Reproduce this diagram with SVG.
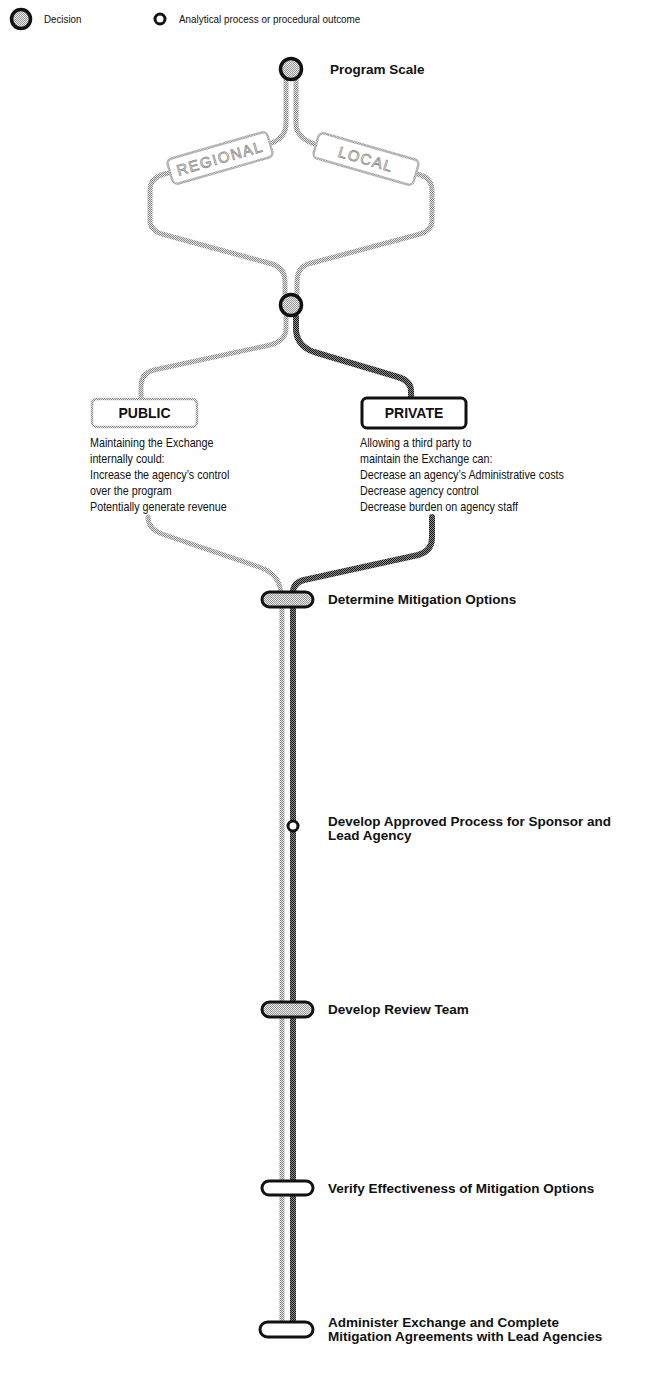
<svg xmlns="http://www.w3.org/2000/svg" width="654" height="1397" viewBox="0 0 654 1397">
  <defs>
    <!-- dithered greys used for strokes and fills -->
    <pattern id="stipLight" width="2" height="2" patternUnits="userSpaceOnUse">
      <rect width="2" height="2" fill="#e2e2e2"/>
      <rect width="1" height="1" fill="#8a8a8a"/>
      <rect x="1" y="1" width="1" height="1" fill="#8a8a8a"/>
    </pattern>
    <pattern id="stipDark" width="2" height="2" patternUnits="userSpaceOnUse">
      <rect width="2" height="2" fill="#8c8c8c"/>
      <rect width="1" height="1" fill="#1a1a1a"/>
      <rect x="1" y="1" width="1" height="1" fill="#1a1a1a"/>
    </pattern>
    <pattern id="stipFill" width="2" height="2" patternUnits="userSpaceOnUse">
      <rect width="2" height="2" fill="#e8e8e8"/>
      <rect width="1" height="1" fill="#9a9a9a"/>
      <rect x="1" y="1" width="1" height="1" fill="#9a9a9a"/>
    </pattern>
  </defs>
  <style>
    text { font-family: "Liberation Sans", Arial, sans-serif; fill: #111; }
    .legend { font-size: 11.5px; }
    .label { font-size: 13.5px; font-weight: bold; }
    .body { font-size: 12.5px; }
    .choice { font-size: 14px; font-weight: bold; text-anchor: middle; }
    .tagtext { font-size: 15px; fill: #fff; stroke: #8f8f8f; stroke-width: 0.8; letter-spacing: 1.5px; text-anchor: middle; }
    .light { fill: none; stroke: url(#stipLight); stroke-width: 5; stroke-linecap: round; stroke-linejoin: round; }
    .dark { fill: none; stroke: url(#stipDark); stroke-width: 6; stroke-linecap: round; stroke-linejoin: round; }
    .decision { fill: url(#stipFill); stroke: #111; stroke-width: 3.5; }
    .process { fill: #fff; stroke: #111; stroke-width: 3; }
    .pill { stroke: #111; stroke-width: 3; }
    .tag { fill: #fff; stroke: url(#stipLight); stroke-width: 2.5; }
  </style>

  <!-- legend; the printed type is a narrow face, so lines are squeezed horizontally -->
  <g id="legend">
    <circle class="decision" cx="21" cy="19" r="9.5"/>
    <g transform="translate(44,0) scale(0.85,1)">
      <text class="legend" x="0" y="23">Decision</text>
    </g>
    <circle class="process" cx="160" cy="19" r="5"/>
    <g transform="translate(179,0) scale(0.86,1)">
      <text class="legend" x="0" y="23">Analytical process or procedural outcome</text>
    </g>
  </g>

  <!-- connectors -->
  <g id="connectors">
    <!-- program scale split -->
    <path class="light" d="M286,80 L286,124 Q286,137 272,143"/>
    <path class="light" d="M296,80 L296,124 Q296,137 314,144"/>
    <path class="light" d="M169,173 Q150,176 150,190 L150,221 Q150,230 162,234 L272,264 Q285,268 285,282 L285,294"/>
    <path class="light" d="M417,174 Q432,177 432,191 L432,221 Q432,230 420,234 L308,264 Q297,268 297,282 L297,294"/>
    <!-- management options -->
    <path class="light" d="M286,317 L286,328 Q286,341 270,345 L154,370 Q141,373 141,386 L141,399"/>
    <path class="dark" d="M296,317 L296,330 Q297,346 314,352 L398,377 Q411,381 411,391 L411,397"/>
    <!-- merge into mitigation options -->
    <path class="light" d="M148,517 Q148,529 162,534 L262,568 Q279,575 281,592"/>
    <path class="dark" d="M432,517 L432,538 Q432,551 418,555 L304,580 Q293,583 293,592"/>
    <!-- main trunk -->
    <line class="light" x1="282" y1="606" x2="282" y2="1322"/>
    <line class="dark" x1="293" y1="606" x2="293" y2="1322"/>
  </g>

  <g id="program-scale">
    <circle class="decision" cx="291" cy="69" r="10.5"/>
    <text class="label" x="330" y="74">Program Scale</text>
  </g>

  <g id="regional">
    <g transform="translate(220,158) rotate(-16)">
      <rect class="tag" x="-52" y="-13" width="104" height="26" rx="5"/>
      <text class="tagtext" x="0" y="5.5">REGIONAL</text>
    </g>
  </g>

  <g id="local">
    <g transform="translate(366,159) rotate(16)">
      <rect class="tag" x="-52" y="-13" width="104" height="26" rx="5"/>
      <text class="tagtext" x="0" y="5.5">LOCAL</text>
    </g>
  </g>

  <g id="management-decision">
    <circle class="decision" cx="291" cy="305" r="10.5"/>
  </g>

  <g id="public">
    <rect x="92" y="399" width="105" height="28" rx="5" fill="#fff" stroke="url(#stipLight)" stroke-width="2.5"/>
    <text class="choice" x="144.5" y="418">PUBLIC</text>
    <g transform="translate(90,0) scale(0.86,1)">
      <text class="body" x="0" y="447">Maintaining the Exchange</text>
      <text class="body" x="0" y="463">internally could:</text>
      <text class="body" x="0" y="479">Increase the agency’s control</text>
      <text class="body" x="0" y="495">over the program</text>
      <text class="body" x="0" y="511">Potentially generate revenue</text>
    </g>
  </g>

  <g id="private">
    <rect x="362" y="398" width="104" height="30" rx="5" fill="#fff" stroke="#111" stroke-width="3"/>
    <text class="choice" x="414" y="418">PRIVATE</text>
    <g transform="translate(360,0) scale(0.86,1)">
      <text class="body" x="0" y="447">Allowing a third party to</text>
      <text class="body" x="0" y="463">maintain the Exchange can:</text>
      <text class="body" x="0" y="479">Decrease an agency’s Administrative costs</text>
      <text class="body" x="0" y="495">Decrease agency control</text>
      <text class="body" x="0" y="511">Decrease burden on agency staff</text>
    </g>
  </g>

  <g id="determine-options">
    <rect class="pill" x="262" y="592" width="51" height="15" rx="7.5" fill="url(#stipFill)"/>
    <text class="label" x="328" y="604">Determine Mitigation Options</text>
  </g>

  <g id="approved-process">
    <circle class="process" cx="293" cy="826" r="5"/>
    <text class="label" x="328" y="826">Develop Approved Process for Sponsor and</text>
    <text class="label" x="328" y="840">Lead Agency</text>
  </g>

  <g id="review-team">
    <rect class="pill" x="262" y="1002" width="51" height="15" rx="7.5" fill="url(#stipFill)"/>
    <text class="label" x="328" y="1014">Develop Review Team</text>
  </g>

  <g id="verify">
    <rect class="pill" x="262" y="1181" width="51" height="14" rx="7" fill="#fff"/>
    <text class="label" x="328" y="1193">Verify Effectiveness of Mitigation Options</text>
  </g>

  <g id="administer">
    <rect class="pill" x="260" y="1322" width="53" height="15" rx="7.5" fill="#fff"/>
    <text class="label" x="328" y="1327">Administer Exchange and Complete</text>
    <text class="label" x="328" y="1341">Mitigation Agreements with Lead Agencies</text>
  </g>
</svg>
